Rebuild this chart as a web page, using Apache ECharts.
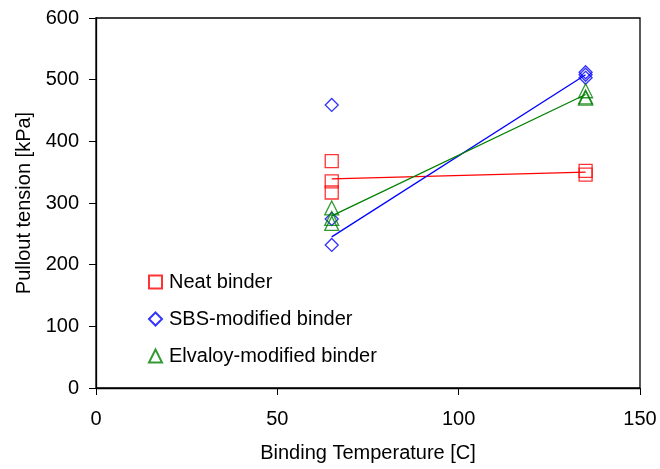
<!DOCTYPE html>
<html>
<head>
<meta charset="utf-8">
<script src="https://cdn.jsdelivr.net/npm/echarts@6/dist/echarts.min.js"></script>
<style>
  html, body { margin: 0; padding: 0; background: #fff; }
  #chart { width: 660px; height: 469px; }
</style>
</head>
<body>
<div id="chart"></div>
<script>
// Measured pullout tension [kPa] at each binding temperature [C]
const neatTemps = [65, 65, 65, 135, 135];
const neatValues = [368, 335, 317, 352, 346];
const sbsTemps = [65, 65, 65, 135, 135, 135];
const sbsValues = [459, 274, 232, 512, 508, 503];
const elvTemps = [65, 65, 65, 135, 135, 135];
const elvValues = [292, 275, 267, 482, 472, 470];

// Linear trend lines, end points at the lowest and highest temperature
const trendTemps = [65, 135];
const neatTrend = [339, 350];
const sbsTrend = [245, 508];
const elvTrend = [279, 476];

const seriesNames = ['Neat binder', 'SBS-modified binder', 'Elvaloy-modified binder'];
const xTicks = [0, 50, 100, 150];
const yTicks = [0, 100, 200, 300, 400, 500, 600];

const pairs = (xs, ys) => xs.map((x, i) => [x, ys[i]]);

const FONT = 'Liberation Sans, Arial, sans-serif';
const FS = 20;
const RED = '#ff0000', BLUE = '#0000ff', GREEN = '#008000';

function markers(name, symbol, size, color, xs, ys) {
  return {
    name, type: 'scatter', symbol, symbolSize: size,
    data: pairs(xs, ys),
    itemStyle: { color: 'transparent', borderColor: color, borderWidth: 1.3 },
    emphasis: { disabled: true },
    z: 3
  };
}
function trend(color, ys) {
  return {
    type: 'line', data: pairs(trendTemps, ys), symbol: 'none',
    lineStyle: { color, width: 1.3 }, silent: true, z: 2
  };
}

const chart = echarts.init(document.getElementById('chart'), null, { renderer: 'canvas' });
chart.setOption({
  animation: false,
  backgroundColor: '#fff',
  textStyle: { fontFamily: FONT },
  grid: {
    left: 96, right: 20, top: 18, bottom: 81,
    show: true, borderColor: '#000', borderWidth: 1.3, backgroundColor: 'transparent'
  },
  legend: {
    data: seriesNames,
    orient: 'vertical',
    left: 148, top: 272, padding: 0,
    itemGap: 17, itemWidth: 13, itemHeight: 13,
    textStyle: { fontFamily: FONT, fontSize: FS, color: '#000', padding: [0, 0, 0, 2] },
    selectedMode: false
  },
  xAxis: {
    type: 'value', min: xTicks[0], max: xTicks[xTicks.length - 1], interval: 50,
    name: 'Binding Temperature [C]', nameLocation: 'middle', nameGap: 55,
    nameTextStyle: { fontFamily: FONT, fontSize: FS, color: '#000' },
    axisLine: { onZero: false, lineStyle: { color: '#000', width: 1.3 } },
    axisTick: { show: true, length: 7, inside: false, lineStyle: { color: '#000' } },
    axisLabel: { fontFamily: FONT, fontSize: FS, color: '#000', margin: 21 },
    splitLine: { show: false }
  },
  yAxis: {
    type: 'value', min: yTicks[0], max: yTicks[yTicks.length - 1], interval: 100,
    name: 'Pullout tension [kPa]', nameLocation: 'middle', nameGap: 62,
    nameTextStyle: { fontFamily: FONT, fontSize: FS, color: '#000' },
    axisLine: { show: true, lineStyle: { color: '#000', width: 1.3 } },
    axisTick: { show: true, length: 7, inside: false, lineStyle: { color: '#000' } },
    axisLabel: { fontFamily: FONT, fontSize: FS, color: '#000', margin: 17 },
    splitLine: { show: false }
  },
  series: [
    trend(RED, neatTrend),
    trend(BLUE, sbsTrend),
    trend(GREEN, elvTrend),
    markers(seriesNames[0], 'rect', 13, RED, neatTemps, neatValues),
    markers(seriesNames[1], 'diamond', 13, BLUE, sbsTemps, sbsValues),
    markers(seriesNames[2], 'triangle', 14, GREEN, elvTemps, elvValues)
  ]
});
</script>
</body>
</html>
